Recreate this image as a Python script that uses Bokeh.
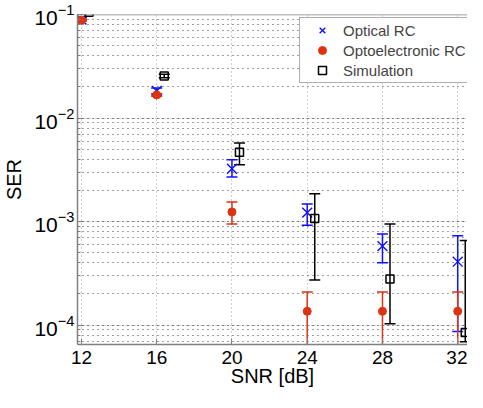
from bokeh.plotting import figure
from bokeh.models import (Whisker, TeeHead, ColumnDataSource, Legend, LegendItem,
                          Span, FixedTicker)
from bokeh.embed import file_html
from bokeh.resources import INLINE

snr = [12, 16, 20, 24, 28, 32]
sim_snr = [12.4, 16.4, 20.4, 24.4, 28.4, 32.4]

optical = [0.0895, 0.0183, 0.00324, 0.00122, 0.00058, 0.00041]
optical_hi = [0.093, 0.0195, 0.00395, 0.00148, 0.00076, 0.00073]
optical_lo = [0.086, 0.0172, 0.00269, 0.00092, 0.00040, 0.000087]

opto = [0.088, 0.0167, 0.00124, 0.000136, 0.000136, 0.000136]
opto_hi = [0.090, 0.0172, 0.00155, 0.000209, 0.000209, 0.000209]
opto_lo = [0.086, 0.0162, 0.00095, 1e-6, 1e-6, 1e-6]

sim = [0.105, 0.0255, 0.00468, 0.00107, 0.000279, 0.000085]
sim_hi = [0.107, 0.0265, 0.00575, 0.00186, 0.00095, 0.000656]
sim_lo = [0.103, 0.0245, 0.00353, 0.000273, 0.000103, 0.000069]

x_ticks = [12, 16, 20, 24, 28, 32]

BLUE = "#1010ff"
RED = "#dd3311"
BLACK = "#000000"
FONT = "Liberation Sans"

p = figure(width=467, height=392, x_range=(11.79, 32.52), y_range=(6.5e-5, 0.1),
           y_axis_type="log", output_backend="svg", toolbar_location=None,
           min_border_left=72, min_border_right=0, min_border_top=14, min_border_bottom=48)
p.outline_line_color = None
p.background_fill_color = "white"
p.border_fill_color = "white"

src_o = ColumnDataSource(dict(x=snr, y=optical, hi=optical_hi, lo=optical_lo))
src_e = ColumnDataSource(dict(x=snr, y=opto, hi=opto_hi, lo=opto_lo))
src_s = ColumnDataSource(dict(x=sim_snr, y=sim, hi=sim_hi, lo=sim_lo))

for src, col in [(src_o, BLUE), (src_e, RED), (src_s, BLACK)]:
    w = Whisker(base="x", upper="hi", lower="lo", source=src, dimension="height",
                line_color=col, line_width=1.5,
                upper_head=TeeHead(size=11, line_color=col, line_width=1.5),
                lower_head=TeeHead(size=11, line_color=col, line_width=1.5))
    p.add_layout(w)

r_o = p.scatter("x", "y", source=src_o, marker="x", size=14, line_color=BLUE, line_width=1.4)
r_e = p.scatter("x", "y", source=src_e, marker="circle", size=8, fill_color=RED, line_color=RED)
r_s = p.scatter("x", "y", source=src_s, marker="square", size=8, fill_color=None,
                line_color=BLACK, line_width=1.5)

p.add_layout(Span(location=0.1, dimension="width", line_color="#808080", line_width=1.5))

p.xaxis.ticker = FixedTicker(ticks=x_ticks)
for ax in (p.xaxis[0], p.yaxis[0]):
    ax.axis_line_color = "#808080"
    ax.axis_line_width = 1.5
    ax.major_tick_in = 6
    ax.major_tick_out = 0
    ax.minor_tick_in = 3
    ax.minor_tick_out = 0
    ax.major_tick_line_color = "#808080"
    ax.minor_tick_line_color = "#808080"
    ax.major_label_text_font = FONT
    ax.major_label_text_color = "black"
    ax.axis_label_text_font = FONT
    ax.axis_label_text_font_size = "20px"
    ax.axis_label_text_font_style = "normal"
    ax.axis_label_text_color = "black"
p.xaxis.major_label_text_font_size = "19px"
p.yaxis.major_label_text_font_size = "21px"
p.xaxis.minor_tick_line_color = None
p.xaxis.axis_label = "SNR [dB]"
p.yaxis.axis_label = "SER"
p.xaxis.major_label_standoff = 6
p.xaxis.axis_label_standoff = -2
p.yaxis.major_label_standoff = 3
p.yaxis.axis_label_standoff = 6

p.xgrid.grid_line_color = "#a0a0a0"
p.xgrid.grid_line_dash = "1 3"
p.ygrid.grid_line_color = "#a0a0a0"
p.ygrid.grid_line_dash = "1 2"
p.ygrid.minor_grid_line_color = "#404040"
p.ygrid.minor_grid_line_dash = "1 4"

legend = Legend(items=[LegendItem(label="Optical RC", renderers=[r_o]),
                       LegendItem(label="Optoelectronic RC", renderers=[r_e]),
                       LegendItem(label="Simulation", renderers=[r_s])],
                location=(222, 261))
legend.label_text_font = FONT
legend.label_text_font_size = "15px"
legend.glyph_width = 40
legend.glyph_height = 20
legend.label_height = 20
legend.spacing = 0
legend.padding = 2
legend.margin = 0
legend.label_standoff = 1
legend.border_line_color = "#606060"
legend.border_line_width = 1
legend.background_fill_alpha = 1
p.add_layout(legend)

open("out.html", "w").write(file_html(p, INLINE))
